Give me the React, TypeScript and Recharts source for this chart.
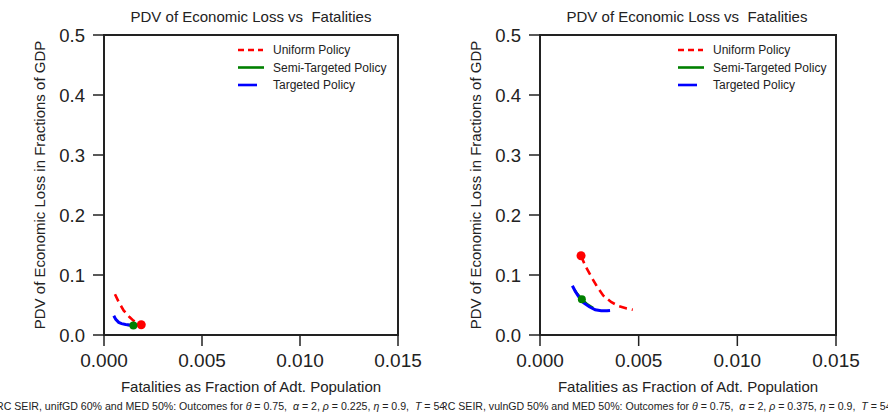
import React from 'react';
import {
  ComposedChart, Line, Scatter, XAxis, YAxis, ReferenceArea, Legend,
} from 'recharts';

// left panel: unifGD 60%
const uniformLeft = [
  { x: 0.00056, y: 0.068 }, { x: 0.00075, y: 0.055 }, { x: 0.001, y: 0.041 },
  { x: 0.0013, y: 0.03 }, { x: 0.0015, y: 0.024 }, { x: 0.0017, y: 0.019 }, { x: 0.0019, y: 0.017 },
];
const semiLeft = [{ x: 0.0012, y: 0.0168 }, { x: 0.0015, y: 0.0158 }];
const targetedLeft = [
  { x: 0.0005, y: 0.032 }, { x: 0.0006, y: 0.026 }, { x: 0.00075, y: 0.021 }, { x: 0.0009, y: 0.019 },
  { x: 0.0011, y: 0.0175 }, { x: 0.0013, y: 0.0168 }, { x: 0.00148, y: 0.0165 },
];
const uniformDotLeft = [{ x: 0.0019, y: 0.017 }];
const semiDotLeft = [{ x: 0.0015, y: 0.0158 }];

// right panel: vulnGD 50%
const uniformRight = [
  { x: 0.00208, y: 0.132 }, { x: 0.0023, y: 0.115 }, { x: 0.0026, y: 0.097 }, { x: 0.0029, y: 0.08 },
  { x: 0.0032, y: 0.066 }, { x: 0.0036, y: 0.055 }, { x: 0.004, y: 0.048 }, { x: 0.0044, y: 0.044 },
  { x: 0.0047, y: 0.042 },
];
const semiRight = [
  { x: 0.00175, y: 0.075 }, { x: 0.0019, y: 0.068 }, { x: 0.00212, y: 0.0595 },
  { x: 0.0024, y: 0.051 }, { x: 0.0027, y: 0.045 },
];
const targetedRight = [
  { x: 0.00164, y: 0.082 }, { x: 0.0018, y: 0.072 }, { x: 0.002, y: 0.062 }, { x: 0.0022, y: 0.054 },
  { x: 0.0025, y: 0.047 }, { x: 0.0028, y: 0.042 }, { x: 0.0031, y: 0.0405 }, { x: 0.0034, y: 0.0405 },
  { x: 0.00355, y: 0.041 },
];
const uniformDotRight = [{ x: 0.00208, y: 0.132 }];
const semiDotRight = [{ x: 0.00212, y: 0.0595 }];

const xTicks = [0, 0.005, 0.01, 0.015];
const yTicks = [0, 0.1, 0.2, 0.3, 0.4, 0.5];
const legendItems = [
  { name: 'Uniform Policy', color: '#ff0000', dash: '6 4', len: 25 },
  { name: 'Semi-Targeted Policy', color: '#008000', dash: undefined, len: 26 },
  { name: 'Targeted Policy', color: '#0000ff', dash: undefined, len: 19 },
];

const FONT = '"Liberation Sans", Arial, sans-serif';
const INK = '#222';

const renderLegend = () => (
  <svg width={160} height={56} style={{ display: 'block' }}>
    {legendItems.map((it, i) => (
      <g key={it.name}>
        <line x1={0} x2={it.len} y1={8 + i * 17.5} y2={8 + i * 17.5}
          stroke={it.color} strokeWidth={2.6} strokeDasharray={it.dash} />
        <text x={35} y={12 + i * 17.5} fontSize={12} fill={INK} fontFamily={FONT}>{it.name}</text>
      </g>
    ))}
  </svg>
);

const dot = (color: string, r: number) => (p: any) => (
  <circle cx={p.cx} cy={p.cy} r={r} fill={color} />
);

interface PanelProps {
  uniform: { x: number; y: number }[];
  semi: { x: number; y: number }[];
  targeted: { x: number; y: number }[];
  uniformDot: { x: number; y: number }[];
  semiDot: { x: number; y: number }[];
  yWidth: number;
  right: number;
  legendLeft: number;
}

const Panel: React.FC<PanelProps> = ({ uniform, semi, targeted, uniformDot, semiDot, yWidth, right, legendLeft }) => (
  <ComposedChart width={444} height={415} margin={{ top: 35, right, bottom: 20, left: 0 }}>
    <XAxis dataKey="x" type="number" domain={[0, 0.015]} ticks={xTicks} allowDataOverflow
      tickFormatter={(v: number) => v.toFixed(3)} height={60} tickSize={11} tickMargin={8}
      axisLine={{ stroke: INK, strokeWidth: 2 }} tickLine={{ stroke: INK, strokeWidth: 1.5 }}
      tick={{ fontSize: 19, fill: INK, fontFamily: FONT }}
      label={{ value: 'Fatalities as Fraction of Adt. Population', position: 'insideBottom', offset: 3,
        style: { fontSize: 15, fill: INK, fontFamily: FONT } }} />
    <YAxis type="number" domain={[0, 0.5]} ticks={yTicks} allowDataOverflow
      tickFormatter={(v: number) => v.toFixed(1)} width={yWidth} tickSize={11} tickMargin={8}
      axisLine={{ stroke: INK, strokeWidth: 2 }} tickLine={{ stroke: INK, strokeWidth: 1.5 }}
      tick={{ fontSize: 18.5, fill: INK, fontFamily: FONT }}
      label={{ value: 'PDV of Economic Loss in Fractions of GDP', angle: -90, position: 'insideLeft',
        offset: yWidth - 64, style: { fontSize: 15, fill: INK, fontFamily: FONT, textAnchor: 'middle' } }} />
    <ReferenceArea x1={0} x2={0.015} y1={0} y2={0.5} fill="none" stroke={INK} strokeWidth={2} />
    <Line data={uniform} dataKey="y" stroke="#ff0000" strokeWidth={2.6} strokeDasharray="8 5"
      dot={false} isAnimationActive={false} legendType="none" />
    <Line data={semi} dataKey="y" stroke="#008000" strokeWidth={2.6}
      dot={false} isAnimationActive={false} legendType="none" />
    <Line data={targeted} dataKey="y" stroke="#0000ff" strokeWidth={3}
      dot={false} isAnimationActive={false} legendType="none" />
    <Scatter data={uniformDot} dataKey="y" fill="#ff0000" shape={dot('#ff0000', 4.5)} isAnimationActive={false} />
    <Scatter data={semiDot} dataKey="y" fill="#008000" shape={dot('#008000', 4)} isAnimationActive={false} />
    <Legend content={renderLegend} layout="vertical" align="center" verticalAlign="middle"
      wrapperStyle={{ position: 'absolute', left: legendLeft, top: 42, width: 160, height: 56 }} />
  </ComposedChart>
);

const Title: React.FC<{ left: number }> = ({ left }) => (
  <div style={{ position: 'absolute', left, top: 8, width: 294, textAlign: 'center', fontSize: 15,
    color: INK, whiteSpace: 'pre' }}>
    PDV of Economic Loss vs  Fatalities
  </div>
);

const Caption: React.FC<{ left: number; gd: string; rho: string }> = ({ left, gd, rho }) => (
  <div style={{ position: 'absolute', left, top: 400, width: 444, height: 15, overflow: 'hidden' }}>
    <div style={{ position: 'absolute', left: -4, top: 0, fontSize: 10.6, whiteSpace: 'pre', color: INK }}>
      {'RC SEIR, ' + gd + ' and MED 50%: Outcomes for '}<i>θ</i>{' = 0.75,  '}<i>α</i>{' = 2, '}
      <i>ρ</i>{' = ' + rho + ', '}<i>η</i>{' = 0.9,  '}<i>T</i>{' = 546'}
    </div>
  </div>
);

export default function App() {
  return (
    <div style={{ position: 'absolute', left: 0, top: 0, width: 888, height: 415, overflow: 'hidden',
      background: '#fff', fontFamily: FONT }}>
      <div style={{ position: 'absolute', left: 0, top: 0 }}>
        <Panel uniform={uniformLeft} semi={semiLeft} targeted={targetedLeft}
          uniformDot={uniformDotLeft} semiDot={semiDotLeft} yWidth={104} right={46} legendLeft={238} />
      </div>
      <div style={{ position: 'absolute', left: 444, top: 0 }}>
        <Panel uniform={uniformRight} semi={semiRight} targeted={targetedRight}
          uniformDot={uniformDotRight} semiDot={semiDotRight} yWidth={96} right={52} legendLeft={234} />
      </div>
      <Title left={104} />
      <Title left={540} />
      <Caption left={0} gd="unifGD 60%" rho="0.225" />
      <Caption left={444} gd="vulnGD 50%" rho="0.375" />
    </div>
  );
}
